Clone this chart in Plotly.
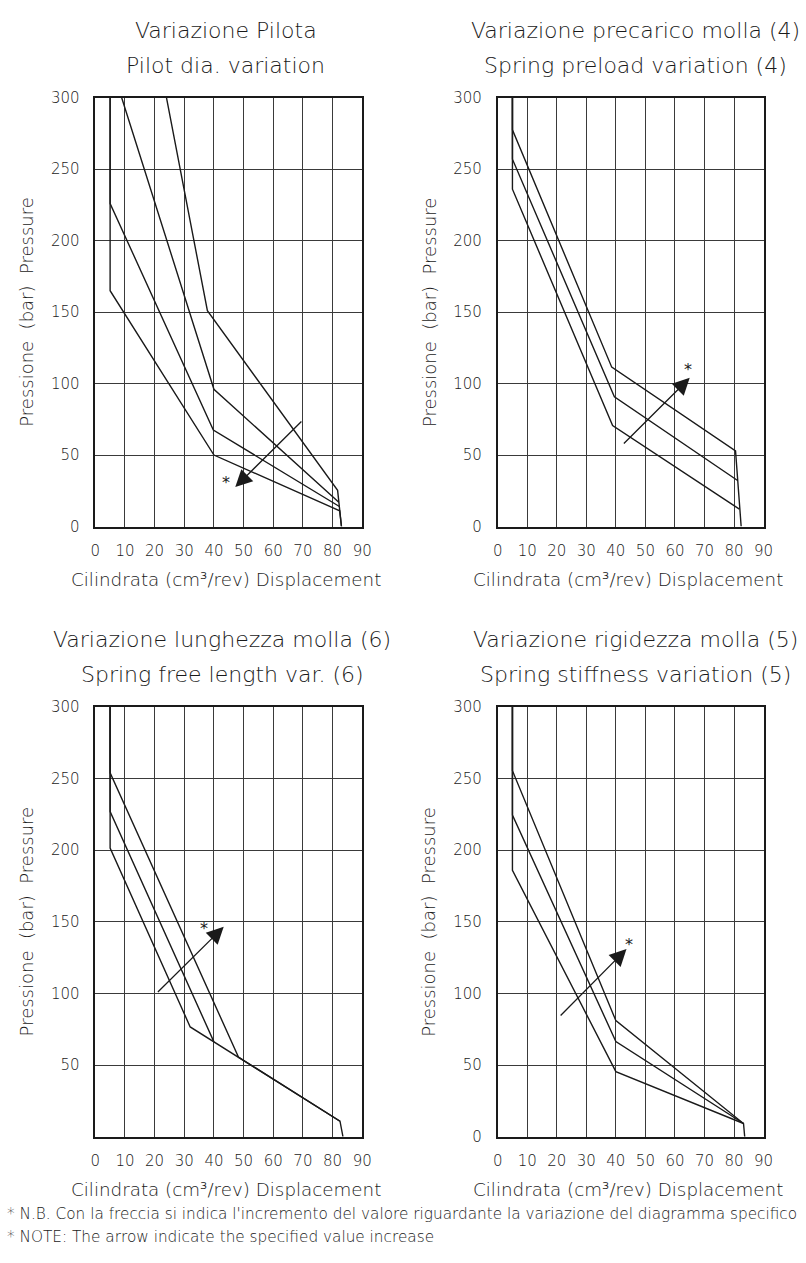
import plotly.graph_objects as go

# ---------------- data ----------------
x_ticks = [0, 10, 20, 30, 40, 50, 60, 70, 80, 90]
y_ticks_full = [0, 50, 100, 150, 200, 250, 300]
y_ticks_no_zero = [50, 100, 150, 200, 250, 300]

# Panel 1 - pilot diameter variation
p1_x = [
    [5, 5, 40, 82.4, 83],
    [5, 5, 39.8, 82.3],
    [8.9, 40, 82.1],
    [24, 37.8, 81.7, 83],
]
p1_y = [
    [300, 165, 50, 11, 0],
    [300, 226, 67.5, 14],
    [300, 96, 17],
    [300, 151, 25.3, 0],
]

# Panel 2 - spring preload variation
p2_x = [
    [5, 5, 38.6, 80.5, 82.4],
    [5, 5, 39.5, 81.2],
    [5, 5, 38.9, 81.8],
]
p2_y = [
    [300, 277.5, 111.5, 52.9, 0],
    [300, 257, 90.8, 32.2],
    [300, 236, 70.7, 12.2],
]

# Panel 3 - spring free length variation
p3_x = [
    [5, 5, 48.3, 82.5, 83.5],
    [5, 5, 40],
    [5, 5, 32, 82.5],
]
p3_y = [
    [300, 254, 55.5, 10.8, 0],
    [300, 227, 66.2],
    [300, 201.5, 76.6, 10.8],
]

# Panel 4 - spring stiffness variation
p4_x = [
    [5, 5, 40, 83.2, 83.6],
    [5, 5, 40, 83.2],
    [5, 5, 40, 83.2],
]
p4_y = [
    [300, 255.5, 81, 9.2, 0],
    [300, 224.5, 66.4, 9.2],
    [300, 186, 45.4, 9.2],
]

# arrows: tail and tip points, plus the star beside each tip
arrow_tail_x = [70, 42.2, 20.6, 20.8]
arrow_tail_y = [74.5, 57, 100, 83.5]
arrow_tip_x = [47.2, 65, 43.3, 43.6]
arrow_tip_y = [27.6, 104, 146.5, 131]
star_x = [44.2, 64.4, 36.8, 44.6]
star_y = [31, 110, 145, 134]

titles_it = ["Variazione Pilota", "Variazione precarico molla (4)",
             "Variazione lunghezza molla (6)", "Variazione rigidezza molla (5)"]
titles_en = ["Pilot dia. variation", "Spring preload variation (4)",
             "Spring free length var. (6)", "Spring stiffness variation (5)"]
y_title = "Pressione  (bar)  Pressure"
x_title = "Cilindrata (cm³/rev) Displacement"
note_it = "* N.B. Con la freccia si indica l'incremento del valore riguardante la variazione del diagramma specifico"
note_en = "* NOTE: The arrow indicate the specified value increase"

# ---------------- layout geometry ----------------
W, H = 806, 1263
FONT = "DejaVu Sans"
WEIGHT = 200
INK = "#1a1a1a"

def font(size):
    return dict(family=FONT, size=size, color=INK, weight=WEIGHT)

col_px = [(92, 364), (502, 773)]
row_px = [(90, 525), (708, 1144)]

def xdom(c):
    a, b = col_px[c]
    return [a / W, b / W]

def ydom(r):
    top, bot = row_px[r]
    return [1 - bot / H, 1 - top / H]

panels = [
    (p1_x, p1_y, 0, 0, y_ticks_full),
    (p2_x, p2_y, 0, 1, y_ticks_full),
    (p3_x, p3_y, 1, 0, y_ticks_no_zero),
    (p4_x, p4_y, 1, 1, y_ticks_full),
]

fig = go.Figure()
layout_axes = {}
annotations = []

for i, (xs, ys, r, c, yt) in enumerate(panels):
    n = i + 1
    xa = "x" if n == 1 else f"x{n}"
    ya = "y" if n == 1 else f"y{n}"
    for lx, ly in zip(xs, ys):
        fig.add_trace(go.Scatter(
            x=lx, y=ly, mode="lines", xaxis=xa, yaxis=ya,
            line=dict(color=INK, width=1.4), showlegend=False, hoverinfo="skip"))

    xkey = "xaxis" if n == 1 else f"xaxis{n}"
    ykey = "yaxis" if n == 1 else f"yaxis{n}"
    layout_axes[xkey] = dict(
        domain=xdom(c), anchor=ya, range=[0, 90], tickvals=x_ticks,
        showgrid=True, gridcolor="#3a3a3a", gridwidth=1, zeroline=False,
        showline=True, mirror=True, linecolor=INK, linewidth=1.5,
        ticks="", ticklabelstandoff=10, tickfont=font(15))
    layout_axes[ykey] = dict(
        domain=ydom(r), anchor=xa, range=[0, 300], tickvals=yt,
        showgrid=True, gridcolor="#3a3a3a", gridwidth=1, zeroline=False,
        showline=True, mirror=True, linecolor=INK, linewidth=1.5,
        ticks="", ticklabelstandoff=11, tickfont=font(15))

    # arrow + star
    annotations.append(dict(
        x=arrow_tip_x[i], y=arrow_tip_y[i], ax=arrow_tail_x[i], ay=arrow_tail_y[i],
        xref=xa, yref=ya, axref=xa, ayref=ya, text="", showarrow=True,
        arrowhead=2, arrowsize=2.6, arrowwidth=1.3, arrowcolor=INK))
    annotations.append(dict(
        x=star_x[i], y=star_y[i], xref=xa, yref=ya, text="*", showarrow=False,
        font=dict(family="DejaVu Sans", size=16, color=INK)))

    # titles
    a, b = col_px[c]
    top, bot = row_px[r]
    cx = (a + b) / 2 / W + (-0.004 if c == 0 else 0.006)
    if r == 1 and c == 0:
        cx -= 0.004
    annotations.append(dict(
        x=cx, y=1 - (top - 68) / H, xref="paper", yref="paper",
        text=titles_it[i], showarrow=False, xanchor="center", yanchor="middle",
        font=font(22)))
    annotations.append(dict(
        x=cx, y=1 - (top - 33) / H, xref="paper", yref="paper",
        text=titles_en[i], showarrow=False, xanchor="center", yanchor="middle",
        font=font(22)))
    # axis titles
    annotations.append(dict(
        x=(a - 70) / W, y=1 - (top + bot) / 2 / H, xref="paper", yref="paper",
        text=y_title, textangle=-90, showarrow=False,
        xanchor="center", yanchor="middle", font=font(18)))
    annotations.append(dict(
        x=(a + b) / 2 / W - 0.003, y=1 - (bot + 54) / H, xref="paper", yref="paper",
        text=x_title, showarrow=False, xanchor="center", yanchor="middle",
        font=font(18.3)))

annotations.append(dict(
    x=0, y=1 - 1222 / H, xref="paper", yref="paper", text=note_it,
    showarrow=False, xanchor="left", yanchor="middle", font=font(15.3)))
annotations.append(dict(
    x=0, y=1 - 1246 / H, xref="paper", yref="paper", text=note_en,
    showarrow=False, xanchor="left", yanchor="middle", font=font(15.3)))

fig.update_layout(
    width=W, height=H, margin=dict(l=0, r=0, t=0, b=0),
    paper_bgcolor="white", plot_bgcolor="white",
    annotations=annotations, **layout_axes)

fig.write_html("out.html")
